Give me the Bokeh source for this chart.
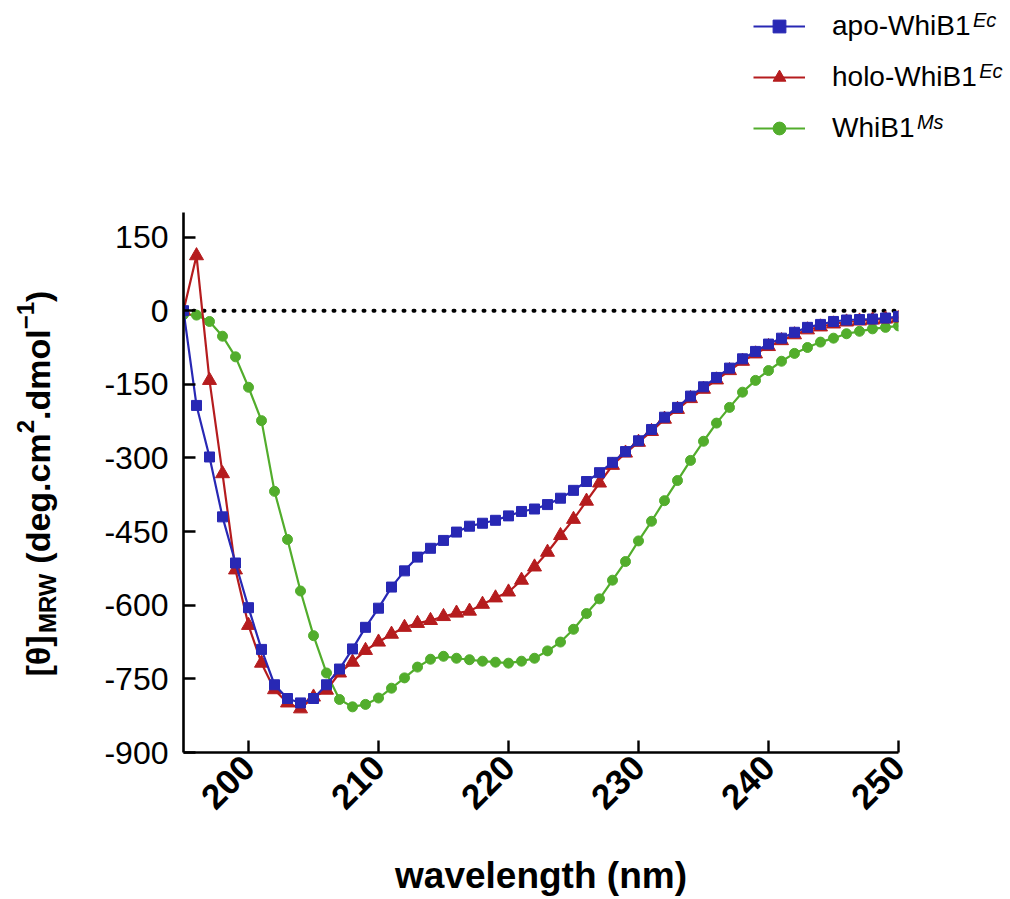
import math
from bokeh.plotting import figure
from bokeh.models import Legend, LegendItem, Label, FixedTicker, Range1d
from bokeh.layouts import column, row
from bokeh.embed import file_html
from bokeh.resources import INLINE

# ---------------- data ----------------
wavelength = [195, 196, 197, 198, 199, 200, 201, 202, 203, 204, 205, 206, 207, 208,
              209, 210, 211, 212, 213, 214, 215, 216, 217, 218, 219, 220, 221, 222,
              223, 224, 225, 226, 227, 228, 229, 230, 231, 232, 233, 234, 235, 236,
              237, 238, 239, 240, 241, 242, 243, 244, 245, 246, 247, 248, 249, 250]

apo_whib1_ec = [0, -193, -298, -420, -514, -605, -690, -762, -790, -799, -790, -762,
                -730, -689, -645, -606, -563, -530, -502, -484, -468, -451, -439, -433,
                -427, -418, -409, -404, -395, -382, -366, -348, -330, -309, -287, -265,
                -242, -217, -197, -174, -155, -136, -117, -98, -83, -68, -56, -44,
                -34, -28, -22, -19, -18, -17, -15, -12]

holo_whib1_ec = [0, 112, -142, -332, -528, -641, -718, -772, -799, -811, -787, -773,
                 -738, -716, -692, -675, -659, -645, -637, -631, -623, -616, -612, -598,
                 -585, -573, -549, -522, -492, -458, -425, -388, -351, -315, -290, -268,
                 -246, -221, -201, -179, -160, -141, -122, -103, -88, -73, -61, -49,
                 -39, -33, -27, -23, -21, -19, -17, -15]

whib1_ms = [-8, -9, -22, -52, -94, -156, -224, -368, -466, -571, -662, -738,
            -792, -807, -802, -789, -769, -748, -726, -710, -704, -708, -711, -714,
            -716, -718, -714, -708, -693, -675, -649, -617, -587, -549, -511, -469,
            -429, -387, -346, -305, -266, -229, -197, -166, -142, -122, -103, -87,
            -75, -64, -56, -47, -42, -37, -34, -31]

x_ticks = [200, 210, 220, 230, 240, 250]
y_ticks = [150, 0, -150, -300, -450, -600, -750, -900]

legend_labels = ["apo-WhiB1", "holo-WhiB1", "WhiB1"]
legend_sups = ["Ec", "Ec", "Ms"]

# ---------------- style / layout ----------------
FONT = "Liberation Sans"
BLUE = "#2828b4"
RED = "#b51c1e"
GREEN = "#52ad2c"

W, H = 1010, 899
TOPH = 190          # height of the strip holding the legend
LABW = 70           # width of the strip holding the y-axis title
FRAME_L, FRAME_R, FRAME_T, FRAME_B = 183, 898, 212, 752   # canvas px of the plot frame
MID = 0.38          # distance (in em) from text middle to alphabetic baseline

series = [
    (apo_whib1_ec, BLUE, "square", 10),
    (holo_whib1_ec, RED, "triangle", 14),
    (whib1_ms, GREEN, "circle", 10),
]

# ---------------- main plot ----------------
MW, MH = W - LABW, H - TOPH
p = figure(width=MW, height=MH, output_backend="svg", toolbar_location=None,
           x_range=Range1d(195, 250), y_range=Range1d(-900, 200),
           min_border_left=FRAME_L - LABW, min_border_right=W - FRAME_R,
           min_border_top=FRAME_T - TOPH, min_border_bottom=H - FRAME_B)
p.outline_line_color = None
p.grid.visible = False
p.background_fill_color = "white"
p.border_fill_color = "white"

# zero reference line (dotted) across the data extent
p.line([wavelength[0], wavelength[-1]], [0, 0], line_color="black", line_width=4,
       line_dash="1 9", line_cap="round")

for ys, col, mk, sz in series[::-1]:   # green first, blue on top
    p.line(wavelength, ys, line_color=col, line_width=2.2)
    p.scatter(wavelength, ys, marker=mk, size=sz, fill_color=col, line_color=col)

xa = p.xaxis[0]
xa.ticker = FixedTicker(ticks=x_ticks)
xa.major_label_orientation = math.pi / 4
xa.major_label_text_font = FONT
xa.major_label_text_font_style = "bold"
xa.major_label_text_font_size = "35px"
xa.major_label_text_color = "black"
xa.major_label_standoff = 9
xa.axis_label = "wavelength (nm)"
xa.axis_label_text_font = FONT
xa.axis_label_text_font_style = "bold"
xa.axis_label_text_font_size = "37px"
xa.axis_label_text_color = "black"
xa.axis_label_standoff = 32

ya = p.yaxis[0]
ya.ticker = FixedTicker(ticks=y_ticks)
ya.major_label_overrides = {v: str(v) for v in y_ticks}
ya.major_label_text_font = FONT
ya.major_label_text_font_size = "32px"
ya.major_label_text_color = "black"
ya.major_label_standoff = 15

for ax in (xa, ya):
    ax.axis_line_color = "black"
    ax.axis_line_width = 2.6
    ax.major_tick_line_color = "black"
    ax.major_tick_line_width = 2.4
    ax.major_tick_in = 12
    ax.major_tick_out = 0
    ax.minor_tick_in = 0
    ax.minor_tick_out = 0
    ax.minor_tick_line_color = None


def bare(fig):
    fig.outline_line_color = None
    fig.background_fill_color = "white"
    fig.border_fill_color = "white"
    for g in fig.grid:
        g.visible = False


# ---------------- y-axis title strip ----------------
# (its frame is aligned by the row with the main plot frame: y from FRAME_T to FRAME_B)
ylab = figure(width=LABW, height=MH, output_backend="svg", toolbar_location=None,
              x_range=Range1d(0, 1), y_range=Range1d(0, 1), min_border=0,
              x_axis_location=None, y_axis_location=None)
bare(ylab)
# pieces: (text, font size px, baseline x in canvas px, advance in em)
pieces = [
    ("[θ]", 34, 50, 1.277),
    ("MRW", 24, 56, 2.499),
    ("", 34, 50, 0.278),          # space
    ("(deg.cm", 34, 50, 3.834),
    ("2", 24, 34, 0.556),
    (".dmol", 34, 50, 2.667),
    ("−1", 24, 34, 1.140),
    (")", 34, 50, 0.333),
]
cy = 676.0
for text, fs, bx, em in pieces:
    if text:
        ylab.add_layout(Label(x=bx - MID * fs, y=FRAME_B - cy,
                              x_units="screen", y_units="screen",
                              text=text, angle=math.pi / 2, text_font=FONT,
                              text_font_style="bold", text_font_size=f"{fs}px",
                              text_color="black", text_align="left",
                              text_baseline="middle"))
    cy -= em * fs

# ---------------- legend strip ----------------
top = figure(width=W, height=TOPH, output_backend="svg", toolbar_location=None,
             x_range=Range1d(0, 1), y_range=Range1d(0, 1), min_border=0,
             x_axis_location=None, y_axis_location=None)
bare(top)
leg_r = []
for ys, col, mk, sz in series:
    l = top.line(wavelength, ys, line_color=col, line_width=2.2)
    m = top.scatter(wavelength, ys, marker=mk, size=sz * 0.85, fill_color=col, line_color=col)
    leg_r.append([l, m])

LEG_LEFT, LEG_TOP = 753, 10
GLYPH_W, ROW_H, SPACING, STANDOFF = 52, 32, 19, 27
legend_h = 3 * ROW_H + 2 * SPACING
items = [LegendItem(label=lab, renderers=rs) for lab, rs in zip(legend_labels, leg_r)]
legend = Legend(items=items, location=(LEG_LEFT, TOPH - (LEG_TOP + legend_h)),
                orientation="vertical", glyph_width=GLYPH_W, glyph_height=ROW_H,
                label_height=ROW_H, label_standoff=STANDOFF, spacing=SPACING,
                padding=0, margin=0, border_line_color=None,
                background_fill_alpha=0, label_text_font=FONT,
                label_text_font_size="28px", label_text_color="black")
top.add_layout(legend, "center")

SUP_FS = 20
main_em = [4.946, 5.168, 2.945]
text_x0 = LEG_LEFT + GLYPH_W + STANDOFF
for i, (sup, em) in enumerate(zip(legend_sups, main_em)):
    row_c = LEG_TOP + ROW_H / 2 + i * (ROW_H + SPACING)
    sup_base = row_c + 1                      # canvas y of superscript baseline
    top.add_layout(Label(x=text_x0 + em * 28 + 2, y=TOPH - (sup_base - MID * SUP_FS),
                         x_units="screen", y_units="screen", text=sup,
                         text_font=FONT, text_font_style="italic",
                         text_font_size=f"{SUP_FS}px", text_color="black",
                         text_align="left", text_baseline="middle"))

layout = column(top, row(ylab, p, spacing=0), spacing=0)
open("out.html", "w").write(file_html(layout, INLINE))
